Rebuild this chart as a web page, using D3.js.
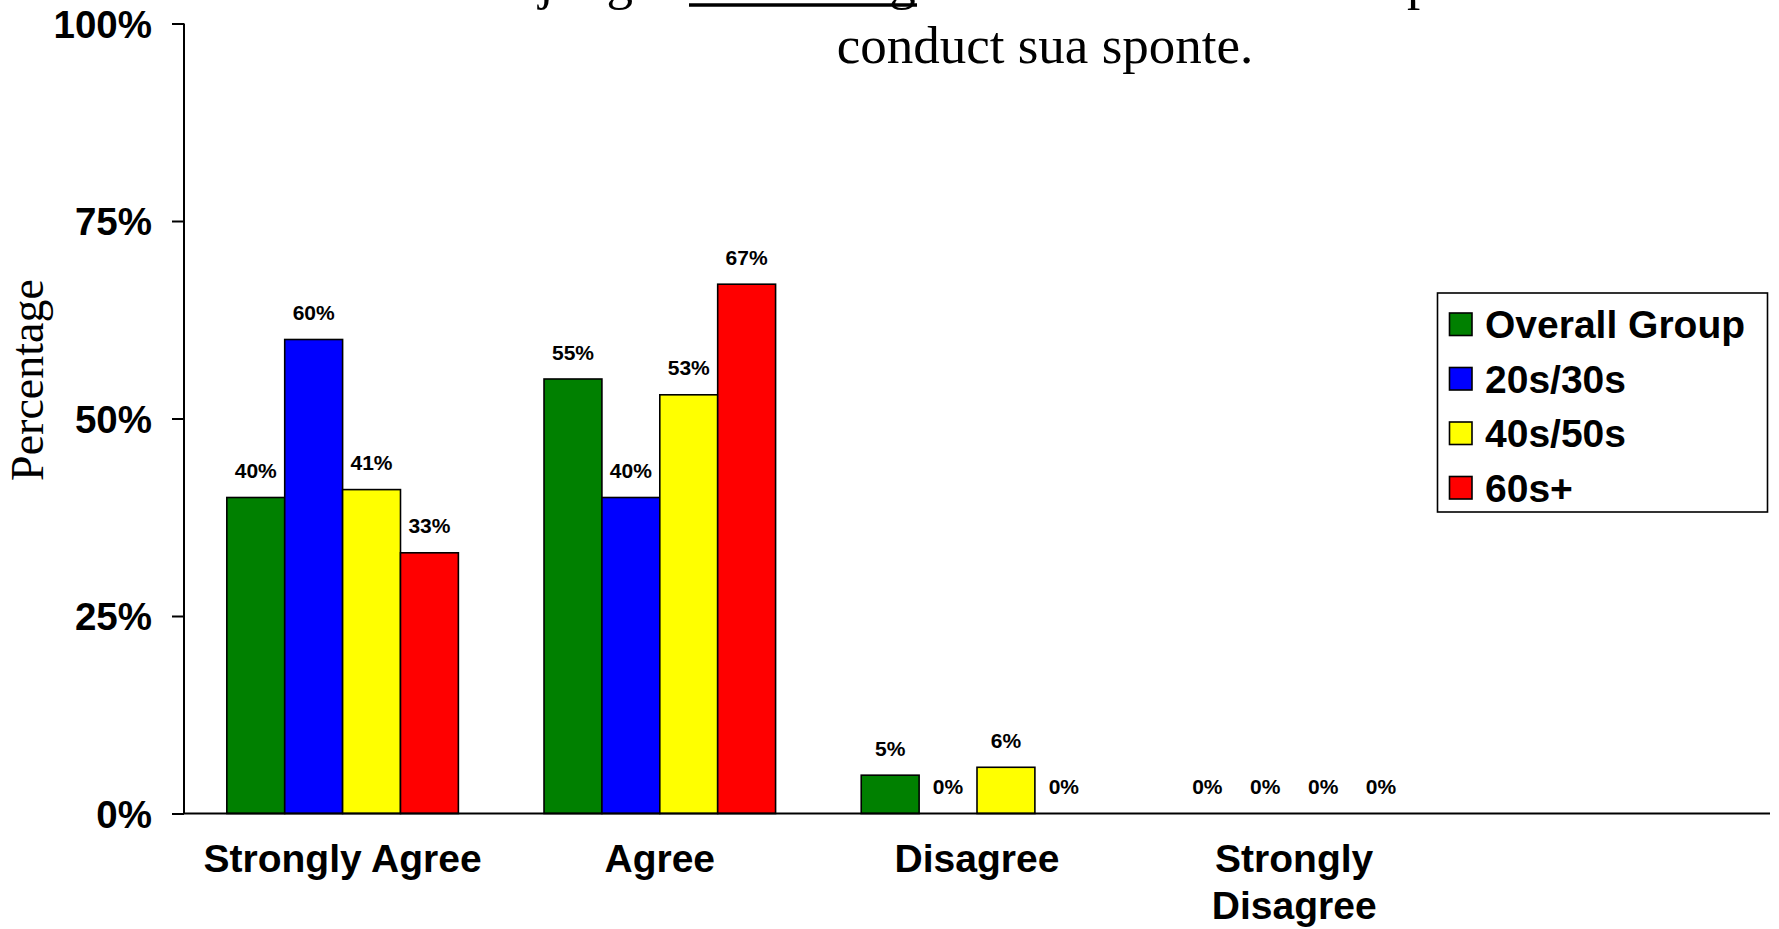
<!DOCTYPE html>
<html>
<head>
<meta charset="utf-8">
<script src="https://cdn.jsdelivr.net/npm/d3@7"></script>
<style>
  html, body { margin: 0; padding: 0; background: #ffffff; }
  svg { display: block; }
</style>
</head>
<body>
<svg id="chart" width="1779" height="929"></svg>
<script>
// ---- data ----
const categories = ["Strongly Agree", "Agree", "Disagree", "Strongly Disagree"];
const categoryLines = [["Strongly Agree"], ["Agree"], ["Disagree"], ["Strongly", "Disagree"]];
const seriesNames = ["Overall Group", "20s/30s", "40s/50s", "60s+"];
const seriesColors = ["#008000", "#0000ff", "#ffff00", "#ff0000"];
const overallGroup = [40, 55, 4.85, 0];
const age2030 = [60, 40, 0, 0];
const age4050 = [41, 53, 5.85, 0];
const age60plus = [33, 67, 0, 0];
const yTicks = [0, 25, 50, 75, 100];
const yTickLabels = ["0%", "25%", "50%", "75%", "100%"];
const titleLine2 = "conduct sua sponte.";
const yTitle = "Percentage";

const seriesValues = [overallGroup, age2030, age4050, age60plus];

const svg = d3.select("#chart");
const sans = "'Liberation Sans', Arial, sans-serif";
const serif = "'Liberation Serif', 'Times New Roman', serif";

const plotLeft = 184, plotRight = 1770, plotTop = 23.5, plotBottom = 813.5;

const x0 = d3.scaleBand()
  .domain([...categories, "__legend__"])
  .range([plotLeft, plotRight])
  .paddingInner(0).paddingOuter(0);

const x1 = d3.scaleBand()
  .domain(seriesNames)
  .range([x0.bandwidth() * 0.135, x0.bandwidth() * 0.865])
  .paddingInner(0).paddingOuter(0);

const y = d3.scaleLinear().domain([0, 100]).range([plotBottom, plotTop]);

// ---- title (first line clipped by the top edge, as in the original + second line) ----
const title = svg.append("g").attr("fill", "#000").attr("font-family", serif).attr("font-size", 53);
title.append("text").attr("x", 656.5).attr("y", -1.5).attr("text-anchor", "end").text("The chief judge");
title.append("text").attr("x", 689).attr("y", -1.5).text("addressing");
title.append("line").attr("x1", 689).attr("x2", 917).attr("y1", 5).attr("y2", 5)
  .attr("stroke", "#000").attr("stroke-width", 3.4);
title.append("text").attr("x", 1394).attr("y", -1.5).attr("text-anchor", "end").text("in this matter should");
title.append("text").attr("x", 1407).attr("y", -1.5).text("probe all");
title.append("text").attr("x", 1045).attr("y", 63).attr("text-anchor", "middle").text(titleLine2);

// ---- bars ----
const groups = svg.append("g").selectAll("g.cat")
  .data(categories)
  .join("g")
  .attr("class", "cat")
  .attr("transform", d => `translate(${x0(d)},0)`);

const barData = (c, ci) => seriesNames.map((s, si) => ({ s, si, v: seriesValues[si][ci] }));

groups.each(function (c, ci) {
  const g = d3.select(this);
  const data = barData(c, ci);
  g.selectAll("rect")
    .data(data.filter(d => d.v > 0))
    .join("rect")
    .attr("x", d => x1(d.s))
    .attr("y", d => y(d.v))
    .attr("width", x1.bandwidth())
    .attr("height", d => y(0) - y(d.v))
    .attr("fill", d => seriesColors[d.si])
    .attr("stroke", "#000")
    .attr("stroke-width", 1.6);
  g.selectAll("text.val")
    .data(data)
    .join("text")
    .attr("class", "val")
    .attr("x", d => x1(d.s) + x1.bandwidth() / 2)
    .attr("y", d => y(d.v) - 19.5)
    .attr("text-anchor", "middle")
    .attr("font-family", sans)
    .attr("font-weight", "bold")
    .attr("font-size", 21)
    .attr("fill", "#000")
    .text(d => Math.round(d.v) + "%");
});

// ---- axes ----
const yAxis = d3.axisLeft(y)
  .tickValues(yTicks)
  .tickFormat((d, i) => yTickLabels[i])
  .tickSize(12)
  .tickPadding(20);

const yg = svg.append("g").attr("transform", `translate(${plotLeft},0)`).call(yAxis);
yg.select(".domain").attr("stroke", "#000").attr("stroke-width", 2)
  .attr("d", `M0,${plotTop}V${plotBottom}`);
yg.selectAll(".tick line").attr("stroke", "#000").attr("stroke-width", 2);
yg.selectAll(".tick text")
  .attr("font-family", sans).attr("font-weight", "bold").attr("font-size", 38.5)
  .attr("fill", "#000").attr("dy", "0.36em");

const xAxis = d3.axisBottom(x0).tickSize(0).tickFormat("");
const xg = svg.append("g").attr("transform", `translate(0,${plotBottom})`).call(xAxis);
xg.select(".domain").attr("stroke", "#000").attr("stroke-width", 2)
  .attr("d", `M${plotLeft},0H${plotRight}`);
xg.selectAll(".tick").remove();

// category labels
const catLabels = svg.append("g")
  .attr("font-family", sans).attr("font-weight", "bold").attr("font-size", 39)
  .attr("fill", "#000").attr("text-anchor", "middle");
categories.forEach((c, ci) => {
  const t = catLabels.append("text")
    .attr("x", x0(c) + x0.bandwidth() / 2)
    .attr("y", 872);
  categoryLines[ci].forEach((line, li) => {
    t.append("tspan")
      .attr("x", x0(c) + x0.bandwidth() / 2)
      .attr("dy", li === 0 ? 0 : 47)
      .text(line);
  });
});

// y title
svg.append("text")
  .attr("transform", `translate(43,380) rotate(-90)`)
  .attr("text-anchor", "middle")
  .attr("font-family", serif)
  .attr("font-size", 46)
  .attr("fill", "#000")
  .text(yTitle);

// ---- legend ----
const legend = svg.append("g");
legend.append("rect")
  .attr("x", 1437.5).attr("y", 293)
  .attr("width", 330).attr("height", 219)
  .attr("fill", "#fff").attr("stroke", "#000").attr("stroke-width", 1.6);
const rowY = d3.scalePoint().domain(seriesNames).range([324.5, 488]);
const rows = legend.selectAll("g.row").data(seriesNames).join("g").attr("class", "row");
rows.append("rect")
  .attr("x", 1449.5).attr("y", d => rowY(d) - 11.5)
  .attr("width", 22.5).attr("height", 22.5)
  .attr("fill", (d, i) => seriesColors[i])
  .attr("stroke", "#000").attr("stroke-width", 1.6);
rows.append("text")
  .attr("x", 1485).attr("y", d => rowY(d) + 13.5)
  .attr("font-family", sans).attr("font-weight", "bold").attr("font-size", 39)
  .attr("fill", "#000")
  .text(d => d);
</script>
</body>
</html>
